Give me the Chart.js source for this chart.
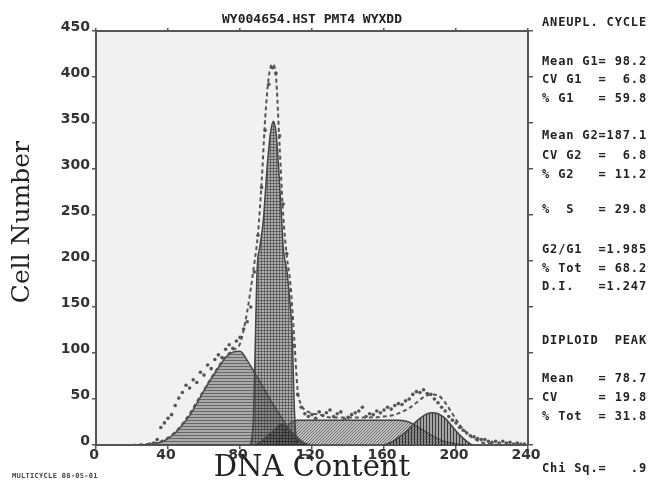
<!DOCTYPE html>
<html>
<head>
<meta charset="utf-8">
<title>DNA histogram</title>
<script src="https://cdn.jsdelivr.net/npm/chart.js@4/dist/chart.umd.min.js"></script>
<style>
  body { margin: 0; background: #fff; }
  #wrap { position: relative; width: 649px; height: 482px; }
  .stat {
    position: absolute; left: 542px; font: bold 12px "DejaVu Sans Mono", monospace;
    letter-spacing: 0.85px; white-space: pre; color: #222; line-height: 14px;
  }
  #stamp {
    position: absolute; left: 12px; top: 472px; font: bold 7px "DejaVu Sans Mono", monospace;
    letter-spacing: 0.3px; white-space: pre; color: #444;
  }
</style>
</head>
<body>
<div id="wrap">
  <canvas id="histChart" width="649" height="482"></canvas>
  <div class="stat" style="top:15px">ANEUPL. CYCLE</div>
  <div class="stat" style="top:54px">Mean G1= 98.2</div>
  <div class="stat" style="top:72px">CV G1  =  6.8</div>
  <div class="stat" style="top:91px">% G1   = 59.8</div>
  <div class="stat" style="top:128px">Mean G2=187.1</div>
  <div class="stat" style="top:148px">CV G2  =  6.8</div>
  <div class="stat" style="top:167px">% G2   = 11.2</div>
  <div class="stat" style="top:202px">%  S   = 29.8</div>
  <div class="stat" style="top:242px">G2/G1  =1.985</div>
  <div class="stat" style="top:261px">% Tot  = 68.2</div>
  <div class="stat" style="top:279px">D.I.   =1.247</div>
  <div class="stat" style="top:333px">DIPLOID  PEAK</div>
  <div class="stat" style="top:371px">Mean   = 78.7</div>
  <div class="stat" style="top:390px">CV     = 19.8</div>
  <div class="stat" style="top:409px">% Tot  = 31.8</div>
  <div class="stat" style="top:461px">Chi Sq.=   .9</div>
  <div id="stamp">MULTICYCLE 08-05-01</div>
</div>
<script>
// diploid G1 peak
const dipX = [24, 28, 32, 36, 40, 44, 48, 52, 56, 60, 64, 68, 72, 76, 80, 84, 88, 92, 96, 100, 104, 108, 112, 116, 120];
const dipY = [0, 0.5, 1.5, 3, 7, 13, 22, 32, 45, 59, 72, 84, 95, 101, 102, 92, 79, 66, 52, 39, 27, 16, 8, 2, 0];

// aneuploid G1 peak
const g1X = [86, 87.5, 88.5, 89.5, 91, 93, 95, 97, 98.5, 100, 101.5, 103, 104, 105, 106, 107.5, 109, 110, 111, 112];
const g1Y = [0, 30, 110, 190, 215, 245, 300, 340, 352, 340, 300, 250, 215, 200, 190, 160, 120, 50, 10, 0];

// small peak under the G1 shoulder
const triX = [88, 92, 96, 100, 103, 106, 110, 114, 118];
const triY = [0, 4, 11, 18, 23, 18, 10, 3, 0];

// aneuploid S phase
const sX = [100, 104, 108, 112, 120, 140, 160, 168, 172, 176, 180, 186, 192, 198, 204];
const sY = [0, 12, 24, 27, 27, 27, 27, 27, 26, 23, 18, 11, 5, 2, 0];

// aneuploid G2 peak
const g2X = [160, 164, 168, 172, 176, 180, 184, 187, 190, 194, 198, 202, 206, 209];
const g2Y = [0, 3, 8, 14, 22, 29, 34, 35, 34, 29, 20, 11, 4, 0];

// total fitted curve (dashed)
const fitX = [20, 28, 32, 36, 40, 44, 48, 52, 56, 60, 64, 68, 72, 76, 80, 82, 84, 86, 88, 90, 92, 94, 96, 98, 100,
  102, 104, 106, 108, 110, 112, 114, 118, 124, 130, 140, 150, 160, 166, 170, 174, 178, 182, 186, 190, 194, 198,
  202, 206, 210, 214, 220, 228, 240];
const fitY = [0, 1, 2, 4, 8, 14, 23, 34, 47, 60, 73, 85, 96, 103, 110, 125, 145, 170, 198, 230, 285, 355, 400, 414, 400,
  325, 250, 205, 175, 120, 60, 44, 36, 33, 30, 30, 30, 31, 33, 36, 40, 46, 52, 55, 54, 46, 34,
  22, 13, 7, 3, 1, 0, 0];

// measured channel counts (dots)
const dotX = [30, 32, 34, 36, 38, 40, 42, 44, 46, 48, 50, 52, 54, 56, 58, 60, 62, 64, 66, 68, 70, 72, 74, 76, 78,
  80, 82, 84, 86, 88, 90, 92, 94, 96, 98, 100, 102, 104, 106, 108, 110, 112, 114, 116, 118, 120, 122, 124, 126, 128,
  130, 132, 134, 136, 138, 140, 142, 144, 146, 148, 150, 152, 154, 156, 158, 160, 162, 164, 166, 168, 170, 172, 174,
  176, 178, 180, 182, 184, 186, 188, 190, 192, 194, 196, 198, 200, 202, 204, 206, 208, 210, 212, 214, 216, 218, 220,
  222, 224, 226, 228, 230, 232, 234, 236, 238];
const dotY = [1, 2, 6, 19, 24, 29, 33, 43, 51, 57, 65, 62, 71, 68, 79, 76, 87, 83, 93, 98, 95, 104, 109, 105, 113,
  117, 126, 134, 150, 188, 228, 280, 342, 392, 410, 404, 336, 262, 208, 168, 108, 55, 41, 34, 31, 33, 29, 36, 32, 35,
  38, 31, 34, 36, 28, 30, 33, 35, 37, 41, 31, 34, 33, 37, 35, 38, 41, 39, 43, 45, 44, 48, 50,
  55, 58, 57, 60, 56, 55, 50, 46, 41, 37, 31, 27, 24, 19, 16, 13, 10, 9, 7, 6, 6, 4, 3,
  4, 2, 4, 2, 3, 1, 2, 1, 1];

const yTicks = [0, 50, 100, 150, 200, 250, 300, 350, 400, 450];
const xTicks = [0, 40, 80, 120, 160, 200, 240];

function pts(xs, ys) {
  return xs.map((x, i) => ({ x: x, y: ys[i] }));
}

// little tiles for the hatched fills
function hatch(kind, base, ink) {
  const c = document.createElement('canvas');
  c.width = 3; c.height = 3;
  const g = c.getContext('2d');
  g.fillStyle = base;
  g.fillRect(0, 0, 3, 3);
  g.fillStyle = ink;
  if (kind === 'h' || kind === 'grid') g.fillRect(0, 0, 3, 1);
  if (kind === 'v' || kind === 'grid') g.fillRect(0, 0, 1, 3);
  if (kind === 'diag') {
    for (let i = 0; i < 3; i++) g.fillRect(i, 2 - i, 1, 1);
  }
  return g.createPattern(c, 'repeat');
}

const plotBg = {
  id: 'plotBg',
  beforeDraw(chart) {
    const { ctx, chartArea: a } = chart;
    ctx.save();
    ctx.fillStyle = '#f1f1f1';
    ctx.fillRect(a.left, a.top, a.width, a.height);
    ctx.restore();
  }
};

const tickFont = { family: 'DejaVu Sans', size: 14, weight: 'bold', lineHeight: 1 };
const axisLine = { color: '#555', width: 2 };

function component(data, fill, order) {
  return {
    type: 'line', data: data, fill: 'origin', backgroundColor: fill,
    borderColor: '#444', borderWidth: 1.5, pointRadius: 0,
    cubicInterpolationMode: 'monotone', order: order
  };
}

const ctx = document.getElementById('histChart').getContext('2d');
const chart = new Chart(ctx, {
  type: 'line',
  data: {
    datasets: [
      component(pts(dipX, dipY), hatch('h', 'rgba(110,110,110,0.55)', 'rgba(60,60,60,0.6)'), 7),
      component(pts(sX, sY), hatch('diag', 'rgba(125,125,125,0.4)', 'rgba(50,50,50,0.6)'), 6),
      component(pts(g1X, g1Y), hatch('grid', 'rgba(105,105,105,0.5)', 'rgba(55,55,55,0.55)'), 5),
      component(pts(triX, triY), hatch('grid', 'rgba(70,70,70,0.5)', 'rgba(35,35,35,0.55)'), 4),
      component(pts(g2X, g2Y), hatch('v', 'rgba(100,100,100,0.55)', 'rgba(30,30,30,0.8)'), 3),
      {
        type: 'line', data: pts(fitX, fitY), fill: false, borderColor: '#555', borderWidth: 2,
        borderDash: [4, 3], pointRadius: 0, cubicInterpolationMode: 'monotone', order: 2
      },
      {
        type: 'line', data: pts(dotX, dotY), showLine: false, pointRadius: 1.8,
        pointBackgroundColor: '#555', pointBorderWidth: 0, order: 1
      }
    ]
  },
  options: {
    responsive: false,
    animation: false,
    devicePixelRatio: 1,
    layout: { padding: 0 },
    plugins: { legend: { display: false }, tooltip: { enabled: false } },
    scales: {
      x: {
        type: 'linear', position: 'bottom', min: 0, max: 240,
        afterBuildTicks: (s) => { s.ticks = xTicks.map(v => ({ value: v })); },
        ticks: { font: tickFont, color: '#333', padding: -1, labelOffset: -2 },
        grid: { drawOnChartArea: false, tickLength: 4, color: '#555', lineWidth: 1.5 },
        border: axisLine,
        title: {
          display: true, text: 'DNA Content', color: '#222',
          font: { family: 'DejaVu Serif', size: 29, lineHeight: 1 }, padding: { top: 0, bottom: -1 }
        },
        afterFit: (s) => { s.height = 37; }
      },
      x2: {
        type: 'linear', position: 'top', min: 0, max: 240,
        afterBuildTicks: (s) => { s.ticks = xTicks.map(v => ({ value: v })); },
        ticks: { display: false },
        grid: { drawOnChartArea: false, tickLength: 3, color: '#555', lineWidth: 1.5 },
        border: axisLine,
        title: {
          display: true, text: 'WY004654.HST PMT4 WYXDD', color: '#222',
          font: { family: 'DejaVu Sans Mono', size: 13, weight: 'bold', lineHeight: 1 },
          padding: { top: 13.5, bottom: 0 }
        },
        afterFit: (s) => { s.height = 31; }
      },
      y: {
        type: 'linear', position: 'left', min: 0, max: 450,
        afterBuildTicks: (s) => { s.ticks = yTicks.map(v => ({ value: v })); },
        ticks: { font: tickFont, color: '#333', padding: 2, labelOffset: -4 },
        grid: { drawOnChartArea: false, tickLength: 4, color: '#555', lineWidth: 1.5 },
        border: axisLine,
        title: {
          // leading spaces lift the label a little above the axis middle, as in the original
          display: true, text: '\u00a0\u00a0\u00a0\u00a0Cell Number', color: '#222',
          font: { family: 'DejaVu Serif', size: 25, lineHeight: 1 }, padding: { top: 10, bottom: 0 }
        },
        afterFit: (s) => { s.width = 96; }
      },
      y2: {
        type: 'linear', position: 'right', min: 0, max: 450,
        afterBuildTicks: (s) => { s.ticks = yTicks.map(v => ({ value: v })); },
        ticks: { display: false },
        grid: { drawOnChartArea: false, tickLength: 5, color: '#555', lineWidth: 1.5 },
        border: axisLine,
        afterFit: (s) => { s.width = 121; }
      }
    }
  },
  plugins: [plotBg]
});
</script>
</body>
</html>
